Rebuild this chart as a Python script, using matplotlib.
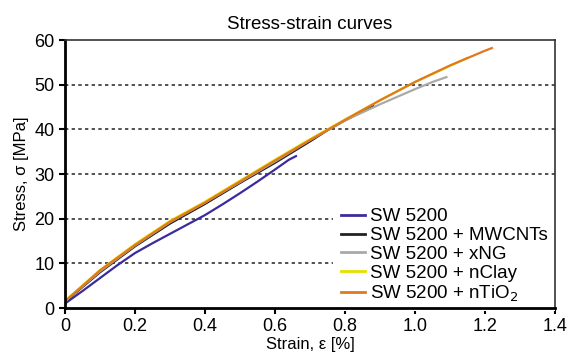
import matplotlib.pyplot as plt

plt.rcParams["font.family"] = ["Liberation Sans", "DejaVu Sans"]

# Strain [%] and stress [MPa]
strain_sw = [0.0, 0.05, 0.1, 0.15, 0.2, 0.25, 0.3, 0.35, 0.4, 0.45, 0.5, 0.55, 0.6, 0.64, 0.66]
stress_sw = [1.0, 3.8, 6.7, 9.6, 12.3, 14.5, 16.6, 18.7, 20.8, 23.2, 25.7, 28.3, 31.0, 33.2, 34.0]

strain_cnt = [0.0, 0.1, 0.2, 0.3, 0.4, 0.5, 0.6, 0.7, 0.75, 0.8, 0.85, 0.88]
stress_cnt = [1.4, 8.0, 13.8, 18.9, 23.3, 28.0, 32.5, 37.3, 39.8, 42.0, 44.0, 45.3]

strain_xng = [0.0, 0.1, 0.2, 0.3, 0.4, 0.5, 0.6, 0.7, 0.8, 0.9, 1.0, 1.05, 1.09]
stress_xng = [1.5, 8.2, 14.0, 19.2, 23.6, 28.2, 32.8, 37.6, 42.0, 45.6, 49.0, 50.6, 51.7]

strain_clay = [0.0, 0.1, 0.2, 0.3, 0.4, 0.5, 0.6, 0.7, 0.8, 0.9, 1.0, 1.1, 1.15]
stress_clay = [1.6, 8.5, 14.3, 19.5, 23.8, 28.5, 33.2, 37.8, 42.2, 46.5, 50.6, 54.2, 56.0]

strain_tio2 = [0.0, 0.1, 0.2, 0.3, 0.4, 0.5, 0.6, 0.7, 0.8, 0.9, 1.0, 1.1, 1.2, 1.22]
stress_tio2 = [1.5, 8.4, 14.1, 19.3, 23.6, 28.3, 33.0, 37.6, 42.1, 46.5, 50.6, 54.3, 57.6, 58.2]

series = [
    ("SW 5200", strain_sw, stress_sw, "#3b2c9c"),
    ("SW 5200 + MWCNTs", strain_cnt, stress_cnt, "#222222"),
    ("SW 5200 + xNG", strain_xng, stress_xng, "#a9a9a9"),
    ("SW 5200 + nClay", strain_clay, stress_clay, "#e6e000"),
    ("SW 5200 + nTiO$_2$", strain_tio2, stress_tio2, "#e0781e"),
]

fig = plt.figure(figsize=(5.68, 3.56), dpi=100)
ax = fig.add_axes([0.1144, 0.1348, 0.8626, 0.7528])

for label, x, y, color in series:
    ax.plot(x, y, color=color, lw=1.6, label=label)

ax.set_xlim(0, 1.4)
ax.set_ylim(0, 60)
ax.set_xticks([0, 0.2, 0.4, 0.6, 0.8, 1.0, 1.2, 1.4])
ax.set_xticklabels(["0", "0.2", "0.4", "0.6", "0.8", "1.0", "1.2", "1.4"])
ax.set_yticks(range(0, 61, 10))
for yv in range(10, 60, 10):
    ax.axhline(yv, color="#333333", lw=1.2, ls=(0, (2, 2)), zorder=0)

ax.tick_params(labelsize=13, length=4, width=1.5, direction="out")
for side in ["left", "bottom"]:
    ax.spines[side].set_linewidth(2.0)
for side in ["top", "right"]:
    ax.spines[side].set_linewidth(1.2)
    ax.spines[side].set_color("#333333")

ax.set_title("Stress-strain curves", fontsize=13.5, pad=8)
ax.set_xlabel("Strain, ε [%]", fontsize=12, labelpad=1)
ax.set_ylabel("Stress, σ [MPa]", fontsize=12, labelpad=4)

leg = ax.legend(loc="lower left", bbox_to_anchor=(0.548, -0.012), frameon=True,
                fancybox=False, facecolor="white", edgecolor="none", framealpha=1,
                fontsize=13.5, handlelength=1.3, handletextpad=0.25,
                labelspacing=0.09, borderaxespad=0.0, borderpad=0.4)
leg.set_zorder(2.2)
for line in leg.get_lines():
    line.set_linewidth(2.0)

fig.savefig("out.png", dpi=100)
